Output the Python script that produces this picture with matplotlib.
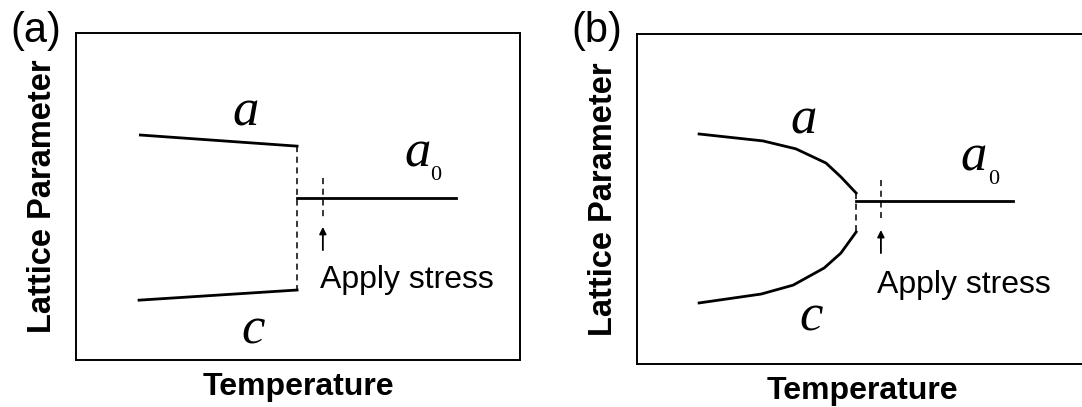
import matplotlib
matplotlib.use('Agg')
import matplotlib.pyplot as plt

plt.rcParams['font.family'] = 'Liberation Sans'

# Panel (a): first-order transition, a and c jump at Tc
a_x_1 = [1.45, 4.98]
a_y_1 = [6.88, 6.54]
c_x_1 = [1.42, 4.98]
c_y_1 = [1.83, 2.14]
a0_x_1 = [4.98, 8.56]
a0_y_1 = [4.94, 4.94]
jump_x_1 = [4.98, 4.98]
jump_y_1 = [6.54, 2.14]
stress_x_1 = 5.56
stress_dash_1 = [5.57, 4.37]
stress_arrow_1 = [3.36, 4.07]

# Panel (b): continuous-like transition, a and c converge toward Tc
a_x_2 = [1.38, 2.80, 3.53, 4.20, 4.53, 4.87]
a_y_2 = [6.97, 6.76, 6.52, 6.09, 5.67, 5.18]
c_x_2 = [1.38, 2.76, 3.47, 4.16, 4.53, 4.87]
c_y_2 = [1.85, 2.12, 2.39, 2.91, 3.36, 4.00]
a0_x_2 = [4.87, 8.36]
a0_y_2 = [4.94, 4.94]
jump_x_2 = [4.87, 4.87]
jump_y_2 = [5.18, 4.00]
stress_x_2 = 5.42
stress_dash_2 = [5.58, 4.42]
stress_arrow_2 = [3.36, 4.06]

panels = [
    dict(tag='(a)', rect=[76 / 1082, 47 / 407, 444 / 1082, 327 / 407],
         a=(a_x_1, a_y_1), c=(c_x_1, c_y_1), a0=(a0_x_1, a0_y_1),
         jump=(jump_x_1, jump_y_1), sx=stress_x_1, sdash=stress_dash_1,
         sarrow=stress_arrow_1,
         lab_a=(3.81, 7.58), lab_c=(3.99, 0.89), lab_a0=(7.70, 6.33),
         lab_0=(8.10, 5.65), lab_stress=(5.50, 2.45)),
    dict(tag='(b)', rect=[637 / 1082, 43 / 407, 450 / 1082, 330 / 407],
         a=(a_x_2, a_y_2), c=(c_x_2, c_y_2), a0=(a0_x_2, a0_y_2),
         jump=(jump_x_2, jump_y_2), sx=stress_x_2, sdash=stress_dash_2,
         sarrow=stress_arrow_2,
         lab_a=(3.71, 7.39), lab_c=(3.87, 1.42), lab_a0=(7.47, 6.27),
         lab_0=(7.92, 5.58), lab_stress=(5.34, 2.39)),
]

fig = plt.figure(figsize=(10.82, 4.07), dpi=100)

serif_it = dict(family='Liberation Serif', style='italic', fontsize=38)

for p in panels:
    ax = fig.add_axes(p['rect'])
    ax.set_xlim(0, 10)
    ax.set_ylim(0, 10)
    ax.set_xticks([])
    ax.set_yticks([])
    for s in ax.spines.values():
        s.set_linewidth(1.4)

    ax.plot(*p['a'], color='k', lw=2.0)
    ax.plot(*p['c'], color='k', lw=2.0)
    ax.plot(*p['a0'], color='k', lw=2.0)
    ax.plot(*p['jump'], color='k', lw=1.1, ls=(0, (4, 3)))
    ax.plot([p['sx'], p['sx']], p['sdash'], color='k', lw=1.1, ls=(0, (4, 3)))
    ax.annotate('', xy=(p['sx'], p['sarrow'][1]), xytext=(p['sx'], p['sarrow'][0]),
                arrowprops=dict(arrowstyle='-|>', color='k', lw=1.3,
                                mutation_scale=10, shrinkA=0, shrinkB=0))

    ax.text(*p['lab_a'], 'a', ha='center', va='center', **serif_it)
    ax.text(*p['lab_c'], 'c', ha='center', va='center', **serif_it)
    ax.text(*p['lab_a0'], 'a', ha='center', va='center', **serif_it)
    ax.text(*p['lab_0'], '0', ha='center', va='center',
            family='Liberation Serif', fontsize=16)
    ax.text(*p['lab_stress'], 'Apply stress', ha='left', va='center', fontsize=23)

    ax.set_xlabel('Temperature', fontsize=23, fontweight='bold', labelpad=9)
    ax.set_ylabel('Lattice Parameter', fontsize=23.5, fontweight='bold', labelpad=13)

    x0 = p['rect'][0]
    fig.text(x0 - 40 / 1082, 1 - 31 / 407, p['tag'], fontsize=30,
             ha='center', va='center')

fig.savefig('out.png', dpi=100)
